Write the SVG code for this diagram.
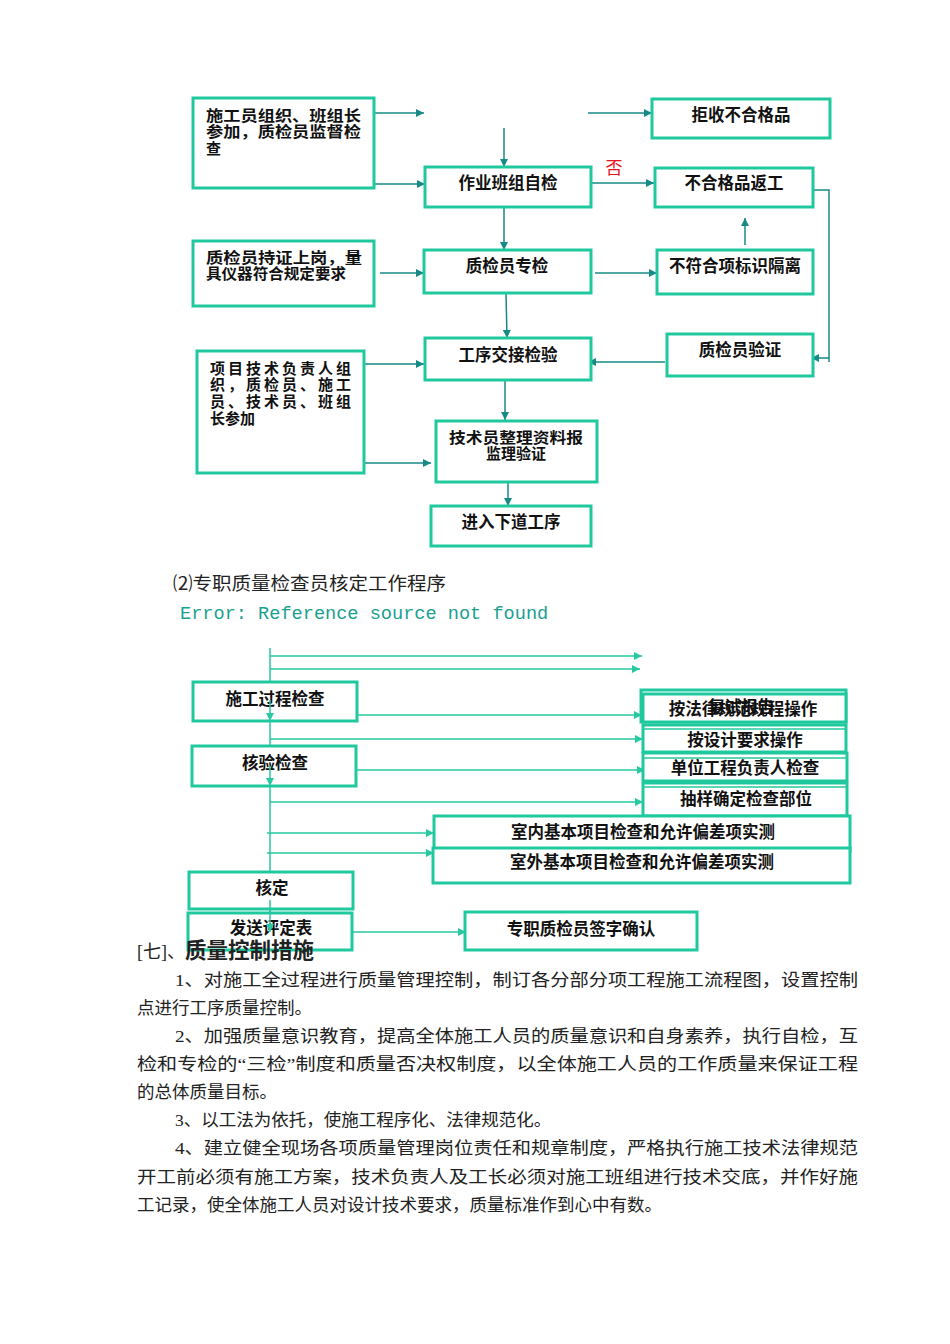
<svg xmlns="http://www.w3.org/2000/svg" width="950" height="1344" viewBox="0 0 950 1344">
<style>
.bx{fill:#fff;stroke:#1fc99d;stroke-width:3}
.bt{font-family:"Liberation Sans","Noto Sans CJK SC",sans-serif;font-size:16.5px;font-weight:bold;fill:#111}
.ml{font-size:15px}
.c{text-anchor:middle}
.dk{stroke:#178a86;stroke-width:1.5;fill:none}
.lt{stroke:#27c9a0;stroke-width:1.5;fill:none}
.p{font-family:"Liberation Serif","Noto Sans CJK SC",serif;font-size:17.5px;fill:#222}
</style>
<defs>
<marker id="ad" viewBox="0 0 10 10" refX="10" refY="5" markerWidth="8" markerHeight="8" markerUnits="userSpaceOnUse" orient="auto"><path d="M0,0L10,5L0,10z" fill="#178a86"/></marker>
<marker id="al" viewBox="0 0 10 10" refX="10" refY="5" markerWidth="8" markerHeight="8" markerUnits="userSpaceOnUse" orient="auto"><path d="M0,0L10,5L0,10z" fill="#27c9a0"/></marker>
</defs>
<rect width="950" height="1344" fill="#fff"/>

<g id="connectors">
<line class="dk" x1="374" y1="113" x2="424" y2="113" marker-end="url(#ad)"/>
<line class="dk" x1="374" y1="184" x2="425" y2="184" marker-end="url(#ad)"/>
<line class="dk" x1="504" y1="128" x2="504" y2="167" marker-end="url(#ad)"/>
<line class="dk" x1="588" y1="113" x2="652" y2="113" marker-end="url(#ad)"/>
<line class="dk" x1="591" y1="183" x2="654" y2="183" marker-end="url(#ad)"/>
<polyline class="dk" points="813,190 829,190 829,362"/>
<line class="dk" x1="829" y1="358" x2="811" y2="358" marker-end="url(#ad)"/>
<line class="dk" x1="745" y1="245" x2="745" y2="218" marker-end="url(#ad)"/>
<line class="dk" x1="595" y1="273" x2="657" y2="273" marker-end="url(#ad)"/>
<line class="dk" x1="380" y1="273" x2="424" y2="273" marker-end="url(#ad)"/>
<line class="dk" x1="504" y1="207" x2="504" y2="250" marker-end="url(#ad)"/>
<line class="dk" x1="506" y1="293" x2="507" y2="338" marker-end="url(#ad)"/>
<line class="dk" x1="665" y1="362" x2="588" y2="362" marker-end="url(#ad)"/>
<line class="dk" x1="364" y1="364" x2="424" y2="364" marker-end="url(#ad)"/>
<line class="dk" x1="364" y1="463" x2="431" y2="463" marker-end="url(#ad)"/>
<line class="dk" x1="505" y1="380" x2="505" y2="420" marker-end="url(#ad)"/>
<line class="dk" x1="508" y1="482" x2="508" y2="506" marker-end="url(#ad)"/>

<line class="lt" x1="270" y1="648" x2="270" y2="916"/>
<line class="lt" x1="270" y1="656" x2="642" y2="656" marker-end="url(#al)"/>
<line class="lt" x1="270" y1="669" x2="640" y2="669" marker-end="url(#al)"/>
<line class="lt" x1="270" y1="715" x2="642" y2="715" marker-end="url(#al)"/>
<line class="lt" x1="270" y1="739" x2="643" y2="739" marker-end="url(#al)"/>
<line class="lt" x1="357" y1="770" x2="645" y2="770" marker-end="url(#al)"/>
<line class="lt" x1="270" y1="802" x2="643" y2="802" marker-end="url(#al)"/>
<line class="lt" x1="267" y1="833" x2="434" y2="833" marker-end="url(#al)"/>
<line class="lt" x1="267" y1="853" x2="434" y2="853" marker-end="url(#al)"/>
<line class="lt" x1="350" y1="932" x2="466" y2="932" marker-end="url(#al)"/>
</g>

<g id="n1"><rect class="bx" x="193" y="98" width="181" height="90"/>
<text class="bt ml" x="206" y="121" textLength="155" lengthAdjust="spacingAndGlyphs">施工员组织、班组长</text>
<text class="bt ml" x="206" y="137" textLength="155" lengthAdjust="spacingAndGlyphs">参加，质检员监督检</text>
<text class="bt ml" x="206" y="154">查</text></g>
<g id="n2"><rect class="bx" x="425" y="167" width="166" height="40"/><text class="bt c" x="508" y="189">作业班组自检</text></g>
<g id="n3"><rect class="bx" x="652" y="99" width="178" height="39"/><text class="bt c" x="741" y="121">拒收不合格品</text></g>
<text x="614" y="174" font-family="Liberation Sans,Noto Sans CJK SC,sans-serif" font-size="17" fill="#e8141c" text-anchor="middle">否</text>
<g id="n4"><rect class="bx" x="655" y="168" width="158" height="39"/><text class="bt c" x="734" y="189">不合格品返工</text></g>
<g id="n5"><rect class="bx" x="193" y="241" width="181" height="65"/>
<text class="bt ml" x="206" y="263" textLength="156" lengthAdjust="spacingAndGlyphs">质检员持证上岗，量</text>
<text class="bt ml" x="206" y="279" textLength="140" lengthAdjust="spacingAndGlyphs">具仪器符合规定要求</text></g>
<g id="n6"><rect class="bx" x="424" y="250" width="167" height="43"/><text class="bt c" x="507" y="272">质检员专检</text></g>
<g id="n7"><rect class="bx" x="657" y="250" width="156" height="44"/><text class="bt c" x="735" y="272">不符合项标识隔离</text></g>
<g id="n8"><rect class="bx" x="667" y="334" width="146" height="42"/><text class="bt c" x="740" y="356">质检员验证</text></g>
<g id="n9"><rect class="bx" x="425" y="338" width="166" height="42"/><text class="bt c" x="508" y="361">工序交接检验</text></g>
<g id="n10"><rect class="bx" x="197" y="351" width="167" height="122"/>
<text class="bt ml" x="210" y="374" textLength="141" lengthAdjust="spacing">项目技术负责人组</text>
<text class="bt ml" x="210" y="390" textLength="141" lengthAdjust="spacing">织，质检员、施工</text>
<text class="bt ml" x="210" y="407" textLength="141" lengthAdjust="spacing">员、技术员、班组</text>
<text class="bt ml" x="210" y="424">长参加</text></g>
<g id="n11"><rect class="bx" x="436" y="421" width="161" height="61"/>
<text class="bt ml c" x="516" y="443" textLength="134" lengthAdjust="spacingAndGlyphs">技术员整理资料报</text><text class="bt ml c" x="516" y="459">监理验证</text></g>
<g id="n12"><rect class="bx" x="431" y="506" width="160" height="40"/><text class="bt c" x="511" y="528">进入下道工序</text></g>

<text x="173" y="590" font-family="Liberation Serif,Noto Sans CJK SC,serif" font-size="18" fill="#222" textLength="273" lengthAdjust="spacingAndGlyphs">⑵专职质量检查员核定工作程序</text>
<text x="180" y="619" font-family="Liberation Mono,monospace" font-size="18.6" fill="#1aa090">Error: Reference source not found</text>

<g id="m1"><rect class="bx" x="193" y="682" width="164" height="39"/><text class="bt c" x="275" y="705">施工过程检查</text></g>
<g id="m2"><rect class="bx" x="192" y="746" width="164" height="40"/><text class="bt c" x="275" y="769">核验检查</text></g>
<line class="lt" x1="270" y1="700" x2="270" y2="721" marker-end="url(#al)"/>
<line class="lt" x1="270" y1="766" x2="270" y2="786" marker-end="url(#al)"/>
<g id="m3"><rect class="bx" x="641" y="690" width="205" height="32"/><rect class="bx" x="643" y="694" width="203" height="28"/>
<text class="bt c" x="743" y="715">按法律规范规程操作</text><text class="bt c" x="741" y="713">复试报告</text></g>
<g id="m4"><rect class="bx" x="643" y="725" width="203" height="27"/><line class="lt" x1="643" y1="729" x2="846" y2="729" stroke-width="2"/><text class="bt c" x="745" y="746">按设计要求操作</text></g>
<g id="m5"><rect class="bx" x="643" y="753" width="204" height="28"/><line class="lt" x1="643" y1="758" x2="847" y2="758" stroke-width="2"/><text class="bt c" x="745" y="774">单位工程负责人检查</text></g>
<g id="m6"><rect class="bx" x="643" y="783" width="204" height="33"/><line class="lt" x1="643" y1="787" x2="847" y2="787" stroke-width="2"/><text class="bt c" x="746" y="805">抽样确定检查部位</text></g>
<g id="m7"><rect class="bx" x="434" y="816" width="416" height="35"/><text class="bt c" x="643" y="838">室内基本项目检查和允许偏差项实测</text></g>
<g id="m8"><rect class="bx" x="433" y="848" width="417" height="35"/><text class="bt c" x="642" y="868">室外基本项目检查和允许偏差项实测</text></g>
<g id="m9"><rect class="bx" x="189" y="872" width="164" height="37"/><text class="bt c" x="272" y="894">核定</text></g>
<g id="m10"><rect class="bx" x="188" y="913" width="164" height="37"/><text class="bt c" x="271" y="934">发送评定表</text></g>
<line class="lt" x1="270" y1="900" x2="270" y2="932" marker-end="url(#al)"/>
<g id="m11"><rect class="bx" x="465" y="912" width="232" height="38"/><text class="bt c" x="581" y="935">专职质检员签字确认</text></g>

<text x="137" y="958" font-family="Liberation Serif,Noto Sans CJK SC,serif" font-size="18" fill="#222">[七]、<tspan font-family="Liberation Sans,Noto Sans CJK SC,sans-serif" font-weight="bold" font-size="21.5">质量控制措施</tspan></text>
<text class="p" x="175" y="986" textLength="683" lengthAdjust="spacingAndGlyphs">1、对施工全过程进行质量管理控制，制订各分部分项工程施工流程图，设置控制</text>
<text class="p" x="137" y="1014">点进行工序质量控制。</text>
<text class="p" x="175" y="1042" textLength="683" lengthAdjust="spacingAndGlyphs">2、加强质量意识教育，提高全体施工人员的质量意识和自身素养，执行自检，互</text>
<text class="p" x="137" y="1070" textLength="721" lengthAdjust="spacingAndGlyphs">检和专检的“三检”制度和质量否决权制度，以全体施工人员的工作质量来保证工程</text>
<text class="p" x="137" y="1098">的总体质量目标。</text>
<text class="p" x="175" y="1126">3、以工法为依托，使施工程序化、法律规范化。</text>
<text class="p" x="175" y="1154" textLength="683" lengthAdjust="spacingAndGlyphs">4、建立健全现场各项质量管理岗位责任和规章制度，严格执行施工技术法律规范</text>
<text class="p" x="137" y="1183" textLength="721" lengthAdjust="spacingAndGlyphs">开工前必须有施工方案，技术负责人及工长必须对施工班组进行技术交底，并作好施</text>
<text class="p" x="137" y="1211">工记录，使全体施工人员对设计技术要求，质量标准作到心中有数。</text>
</svg>
